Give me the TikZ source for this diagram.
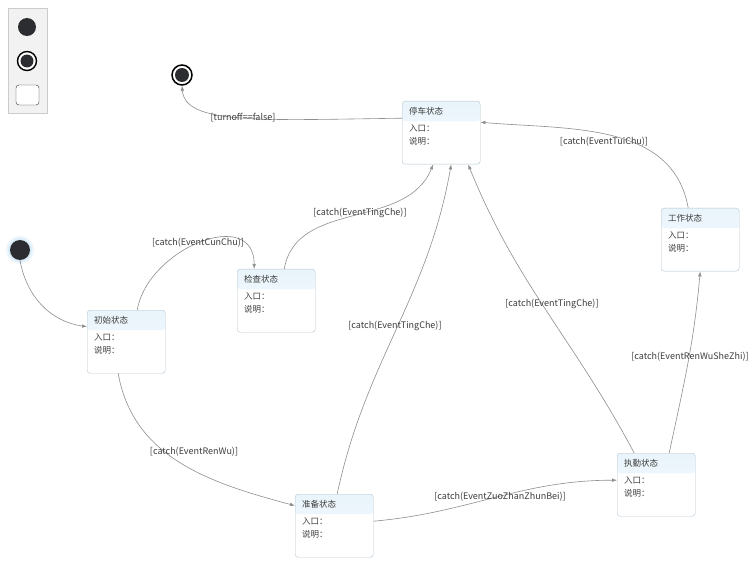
\documentclass[tikz,border=0pt]{standalone}
\usepackage{fontspec}
\setmainfont{Noto Sans CJK SC}
\usetikzlibrary{arrows.meta}
\definecolor{edgegray}{HTML}{8E8E8E}
\definecolor{stateborder}{HTML}{B4C6CE}
\definecolor{headblue}{HTML}{E9F4FB}
\definecolor{darkdot}{HTML}{2B2D31}
\definecolor{glowblue}{HTML}{A9D3F0}
\definecolor{txtgray}{HTML}{3C3C3C}
\tikzstyle{statebox} = [draw=stateborder, rounded corners=3pt, fill=white,
    inner xsep=7pt, inner ysep=0pt, anchor=north west, text=txtgray,
    path picture={\shade[top color=headblue, bottom color=headblue!45]
        (path picture bounding box.north west) rectangle
        ([yshift=-20pt]path picture bounding box.north east);}]
\tikzstyle{trans} = [draw=edgegray, line width=0.6pt,
    -{Latex[length=5pt,width=3.6pt]}]
\tikzstyle{lbl} = [text=txtgray, inner sep=0pt, font=\fontsize{9}{11}\selectfont]
\newcommand{\statetext}[1]{\begin{minipage}[t][63pt][t]{64pt}%
    \fontsize{8.5}{13}\selectfont\rule{0pt}{13pt}#1\\[4.5pt]入口：\\说明：\end{minipage}}

\begin{document}
\begin{tikzpicture}[x=1pt,y=1pt]
	\useasboundingbox (0,0) rectangle (756,-567);
	\fill[white] (0,0) rectangle (756,-567);

	% palette
	\draw[draw=black!20, fill=black!5] (8,-8) rectangle (47,-113);
	\fill[darkdot] (27,-27) circle (9);
	\node[circle, draw=black, line width=1.4pt, fill=white, minimum size=19pt,
		path picture={\fill[darkdot] (path picture bounding box.center) circle (6.5pt);}]
		(pal-end) at (27,-61) {};
	\draw[draw=black!80, fill=white, rounded corners=3pt] (16,-85) rectangle (39,-105);

	% pseudo etats
	\fill[glowblue, opacity=.18] (20,-250) circle (14);
	\fill[glowblue, opacity=.3] (20,-250) circle (12);
	\node[circle, fill=darkdot, minimum size=20pt, inner sep=0pt] (init) at (20,-250) {};
	\node[circle, draw=black, line width=1.5pt, fill=white, minimum size=20pt,
		path picture={\fill[darkdot] (path picture bounding box.center) circle (7pt);}]
		(fin) at (182,-75) {};

	% etats
	\node[statebox] (tingche) at (402,-101) {\statetext{停车状态}};
	\node[statebox] (gongzuo) at (661,-208) {\statetext{工作状态}};
	\node[statebox] (jiancha) at (237,-269) {\statetext{检查状态}};
	\node[statebox] (chushi)  at (87,-310)  {\statetext{初始状态}};
	\node[statebox] (zhunbei) at (295,-494) {\statetext{准备状态}};
	\node[statebox] (zhiqin)  at (617,-453) {\statetext{执勤状态}};

	% transitions
	\draw[trans] (init.south) to[out=-80,in=172] ([yshift=15pt]chushi.west);
	\draw[trans] ([xshift=11pt]chushi.north) to[out=80,in=90,looseness=1.3]
		([xshift=-22pt]jiancha.north);
	\draw[trans] ([xshift=8pt]jiancha.north) to[out=80,in=-112]
		([xshift=-8pt]tingche.south);
	\draw[trans] ([xshift=3pt]zhunbei.north) to[out=78,in=-100]
		([xshift=10pt]tingche.south);
	\draw[trans] ([xshift=-22pt]zhiqin.north) to[out=118,in=-68]
		([xshift=27pt]tingche.south);
	\draw[trans] ([xshift=-12pt]gongzuo.north) to[out=100,in=-5]
		([yshift=10.5pt]tingche.east);
	\draw[trans] ([xshift=13pt]zhiqin.north) to[out=78,in=-95] (gongzuo.south);
	\draw[trans] ([xshift=-8pt]chushi.south) to[out=-80,in=165]
		([yshift=20pt]zhunbei.west);
	\draw[trans] ([yshift=4.5pt]zhunbei.east) to[out=5,in=180]
		([yshift=4.5pt]zhiqin.west);
	\draw[trans] ([yshift=14.5pt]tingche.west) .. controls +(-142,-2) and +(3,-39) .. (fin.south);

	% libelles
	\node[lbl] (l-cunchu)  at (198,-243) {[catch(EventCunChu)]};
	\node[lbl] (l-ting1)   at (360,-213) {[catch(EventTingChe)]};
	\node[lbl] (l-ting2)   at (395,-326) {[catch(EventTingChe)]};
	\node[lbl] (l-ting3)   at (552,-304) {[catch(EventTingChe)]};
	\node[lbl] (l-tuichu)  at (604,-142) {[catch(EventTuiChu)]};
	\node[lbl] (l-shezhi)  at (690,-357) {[catch(EventRenWuSheZhi)]};
	\node[lbl] (l-renwu)   at (194,-452) {[catch(EventRenWu)]};
	\node[lbl] (l-zuozhan) at (500,-497) {[catch(EventZuoZhanZhunBei)]};
	\node[lbl] (l-turnoff) at (243,-118) {[turnoff==false]};
\end{tikzpicture}
\end{document}
